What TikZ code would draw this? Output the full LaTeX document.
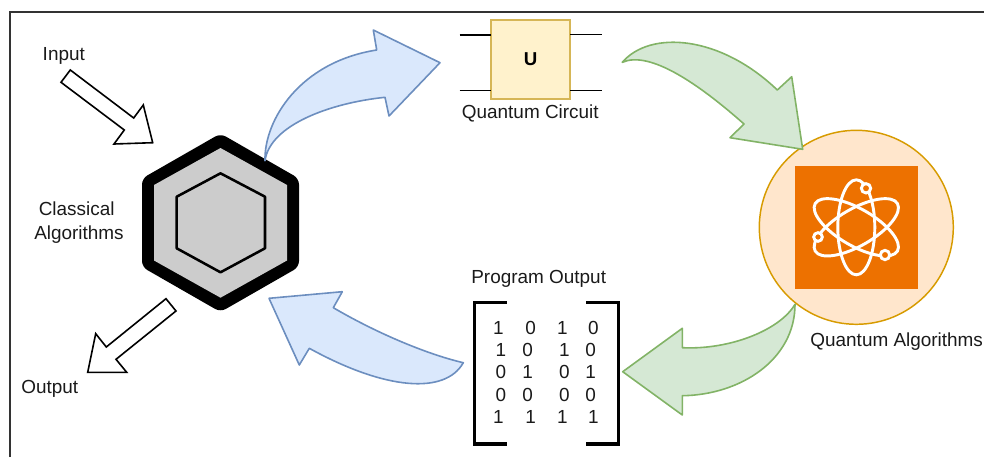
\documentclass[tikz,border=0pt]{standalone}
\usepackage{fontspec}
\setmainfont{Liberation Sans}
\definecolor{bluefill}{HTML}{DAE8FC}
\definecolor{bluedraw}{HTML}{6C8EBF}
\definecolor{greenfill}{HTML}{D5E8D4}
\definecolor{greendraw}{HTML}{82B366}
\definecolor{yellowfill}{HTML}{FFF2CC}
\definecolor{yellowdraw}{HTML}{D6B656}
\definecolor{circfill}{HTML}{FFE6CC}
\definecolor{circdraw}{HTML}{D79B00}
\definecolor{atomorange}{HTML}{ED7100}
\definecolor{hexgrey}{HTML}{CCCCCC}
\definecolor{framegrey}{HTML}{333333}
\definecolor{labeltext}{HTML}{1A1A1A}
\tikzset{
  px/.style={x=0.75pt,y=-0.75pt},
  labeltxt/.style={inner sep=0pt,outer sep=0pt,anchor=base,text=labeltext,font=\fontsize{14.2}{17}\selectfont},
  digit/.style={labeltxt},
  bluearrow/.style={fill=bluefill,draw=bluedraw,line width=1.2pt,line join=round},
  greenarrow/.style={fill=greenfill,draw=greendraw,line width=1.2pt,line join=round},
  hollowarrow/.style={fill=white,draw=black,line width=1.2pt,line join=miter},
  wire/.style={draw=black,line width=1pt},
  bracket/.style={draw=black,line width=2.4pt,line join=miter},
  atomline/.style={draw=white,line width=2.2pt},
  electron/.style={circle,draw=white,fill=atomorange,line width=2.2pt,inner sep=0pt}
}
\begin{document}
\begin{tikzpicture}[px]
\useasboundingbox (0,0) rectangle (984,457);
% frame
\draw[framegrey,line width=1.1pt] (10,457) -- (10,12) -- (984,12);

% classical hexagon: rounded black body, flat grey face, inner outline
\fill[black,rounded corners=4.5pt]
  (220.5,133.5) -- (299,178.5) -- (299,267) -- (220.5,312) -- (142,267) -- (142,178.5) -- cycle;
\fill[hexgrey]
  (220.5,148) -- (287,185) -- (287,260.5) -- (220.5,297.7) -- (154,260.5) -- (154,185) -- cycle;
\draw[fill=hexgrey,draw=black,line width=1.9pt,line join=round]
  (220.5,173.3) -- (265,196.7) -- (265,248.3) -- (220.5,272.3) -- (176.7,248.3) -- (176.7,196.7) -- cycle;

% input and output arrows
\draw[hollowarrow] (70.3,70) -- (61,82.3) -- (124.3,130) -- (114,144) -- (152.7,142.7) -- (143.3,105) -- (133.7,118) -- cycle;
\draw[hollowarrow] (166,298.7) -- (176,311) -- (116,359.3) -- (126.7,372.3) -- (87.7,372.3) -- (95.7,333.7) -- (106.3,347) -- cycle;

% quantum circuit
\node[draw=yellowdraw,fill=yellowfill,line width=1.5pt,minimum width=59.25pt,minimum height=59.25pt,inner sep=0pt,outer sep=0pt,font=\fontsize{14}{15}\selectfont\bfseries,text=black] (gate) at (530.5,59.5) {U};
\coordinate (wirea) at (459.5,35);
\coordinate (wireb) at (459.5,90.5);
\coordinate (wirec) at (601.7,34.5);
\coordinate (wired) at (601.7,90.3);
\draw[wire] (wirea) -- (wirea -| gate.west);
\draw[wire] (wireb) -- (wireb -| gate.west);
\draw[wire] (wirec) -- (wirec -| gate.east);
\draw[wire] (wired) -- (wired -| gate.east);

% quantum algorithms disc and atom
\node[circle,draw=circdraw,fill=circfill,line width=1.1pt,minimum size=145.5pt,inner sep=0pt,outer sep=0pt] (disc) at (856.3,227.3) {};
\node[fill=atomorange,minimum size=92.5pt,inner sep=0pt,outer sep=0pt] (atom) at (856.3,227.6) {};
\begin{scope}[shift={(856.3,227.3)}]
  \foreach \r in {0,60,-60}
    \draw[atomline,rotate=\r] (0,0) ellipse [x radius=18.5,y radius=47.5];
\end{scope}
\node[electron,minimum size=7pt] (ea) at (866,188.3) {};
\node[electron,minimum size=6.5pt] (eb) at (818,237) {};
\node[electron,minimum size=7pt] (ec) at (885,255) {};

% curved block arrows
\draw[bluearrow] (265,160.7) .. controls (264,120) and (300,62) .. (376.7,50)
  -- (373.3,30) -- (440,62.7) -- (389,116) -- (385,97.3)
  .. controls (330,103) and (270,125) .. (265,160.7) -- cycle;
\draw[greenarrow] (622.3,62.3) .. controls (650,30) and (720,35) .. (777.3,90)
  -- (791.7,76.7) -- (802.7,149.3) -- (730,137.7) -- (744,124)
  .. controls (700,85) and (650,50) .. (622.3,62.3) -- cycle;
\draw[greenarrow] (795,304.3) .. controls (780,330) and (730,350) .. (682.3,347.7)
  -- (682.3,328.3) -- (622.7,371.7) -- (682.3,415) -- (682.3,395.7)
  .. controls (740,395) and (795,360) .. (795,304.3) -- cycle;
\draw[bluearrow] (463.3,362.7) .. controls (430,355) and (380,335) .. (333.3,307.7)
  -- (342.3,291.7) -- (269,298.3) -- (299.3,365) -- (309.3,348.3)
  .. controls (385,390) and (445,395) .. (463.3,362.7) -- cycle;

% matrix brackets
\draw[bracket] (506.7,302.7) -- (474.7,302.7) -- (474.7,444) -- (506.7,444);
\draw[bracket] (586,302.7) -- (618.3,302.7) -- (618.3,444) -- (586,444);

% matrix entries
\foreach \x/\y/\v [count=\i] in {
  498.3/334/1, 530.7/334/0, 562.3/334/1, 593.3/334/0,
  501/356/1, 527.7/356/0, 564.3/356/1, 590.7/356/0,
  501/378.3/0, 527.7/378.3/1, 564.3/378.3/0, 590.7/378.3/1,
  501/401.7/0, 527.7/401.7/0, 564.3/401.7/0, 590.7/401.7/0,
  498.3/423.3/1, 530.7/423.3/1, 562.3/423.3/1, 593.3/423.3/1}
  \node[digit] (entry\i) at (\x,\y) {\v};

% labels
\node[labeltxt] (inputlabel) at (63.8,60) {Input};
\node[labeltxt] (outputlabel) at (49.7,393.7) {Output};
\node[labeltxt] (classlabela) at (76.7,215) {Classical};
\node[labeltxt] (classlabelb) at (79,239) {Algorithms};
\node[labeltxt] (circuitlabel) at (530.3,118.3) {Quantum Circuit};
\node[labeltxt] (algolabel) at (896.7,346) {Quantum Algorithms};
\node[labeltxt] (programlabel) at (538.7,283.3) {Program Output};
\end{tikzpicture}
\end{document}
